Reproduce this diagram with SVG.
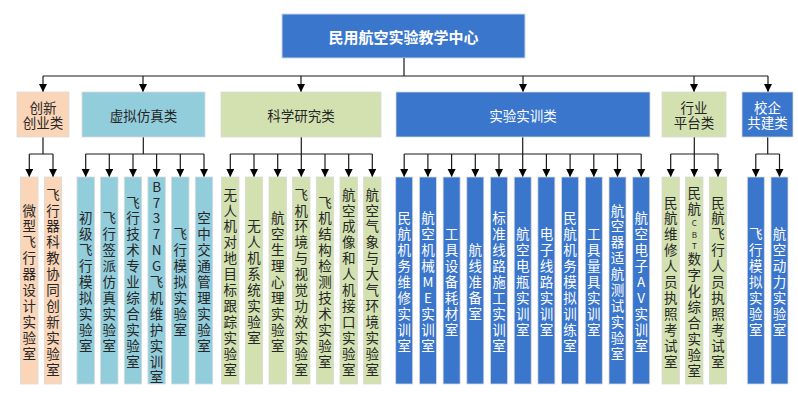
<svg xmlns="http://www.w3.org/2000/svg" width="798" height="404" viewBox="0 0 798 404">
<style>
text{font-family:"Noto Sans CJK SC","Microsoft YaHei",sans-serif;text-anchor:middle;dominant-baseline:central}
.lt{font-size:13.5px}
.ct{font-size:13.5px}
.d{fill:#262626}
.w{fill:#ffffff}
.bx{stroke:#d9d9d9;stroke-width:0.8}
.pe{fill:#fbd5b7}
.lb{fill:#92cddc}
.gr{fill:#d3e1b1}
.bl{fill:#3a76cc}
.cn path{fill:none;stroke:#1a1a1a;stroke-width:1.2}
.cn .a{marker-end:url(#ar)}
</style>
<defs>
<marker id="ar" markerUnits="userSpaceOnUse" markerWidth="9" markerHeight="9" refX="8" refY="4" orient="auto">
<path d="M0,0 L8,4 L0,8 z" fill="#000"/>
</marker>
</defs>
<rect width="798" height="404" fill="#fff"/>

<g id="title">
<rect x="282" y="14" width="243" height="44" class="bl" stroke="#c9d6ea" stroke-width="1"/>
<text x="403.5" y="36" class="w" style="font-size:15px;font-weight:bold">民用航空实验教学中心</text>
</g>

<g class="cn" id="connectors">
<path d="M404,58 V76 M43,76 H768"/>
<path class="a" d="M43,76 V92"/>
<path class="a" d="M143,76 V92"/>
<path class="a" d="M301,76 V92"/>
<path class="a" d="M523,76 V92"/>
<path class="a" d="M694,76 V92"/>
<path class="a" d="M768,76 V92"/>

<path d="M43,137 V154 M29.3,154 H53"/>
<path class="a" d="M29.3,154 V177"/>
<path class="a" d="M53,154 V177"/>

<path d="M143.3,137 V154 M85.7,154 H204"/>
<path class="a" d="M85.7,154 V177"/>
<path class="a" d="M109.3,154 V177"/>
<path class="a" d="M133,154 V177"/>
<path class="a" d="M156.6,154 V177"/>
<path class="a" d="M180.3,154 V177"/>
<path class="a" d="M204,154 V177"/>

<path d="M301.3,137 V154 M230.3,154 H372.3"/>
<path class="a" d="M230.3,154 V177"/>
<path class="a" d="M254,154 V177"/>
<path class="a" d="M277.7,154 V177"/>
<path class="a" d="M301.3,154 V177"/>
<path class="a" d="M325,154 V177"/>
<path class="a" d="M348.7,154 V177"/>
<path class="a" d="M372.3,154 V177"/>

<path d="M522.7,137 V154 M404.2,154 H641.2"/>
<path class="a" d="M404.2,154 V177"/>
<path class="a" d="M427.9,154 V177"/>
<path class="a" d="M451.6,154 V177"/>
<path class="a" d="M475.3,154 V177"/>
<path class="a" d="M499,154 V177"/>
<path class="a" d="M522.7,154 V177"/>
<path class="a" d="M546.4,154 V177"/>
<path class="a" d="M570.1,154 V177"/>
<path class="a" d="M593.8,154 V177"/>
<path class="a" d="M617.5,154 V177"/>
<path class="a" d="M641.2,154 V177"/>

<path d="M694.3,137 V154 M670.7,154 H718"/>
<path class="a" d="M670.7,154 V177"/>
<path class="a" d="M694.3,154 V177"/>
<path class="a" d="M718,154 V177"/>

<path d="M767.7,137 V154 M755.8,154 H779.5"/>
<path class="a" d="M755.8,154 V177"/>
<path class="a" d="M779.5,154 V177"/>
</g>

<g id="cat-innov">
<rect x="17" y="92" width="52" height="45" class="bx pe"/>
<text class="ct d" x="36.25 49.75 29.5 43 56.5" y="107 107 122 122 122">创新创业类</text>
</g>
<g id="cat-virtual">
<rect x="82" y="92" width="123" height="45" class="bx lb"/>
<text x="143.5" y="114.5" class="ct d">虚拟仿真类</text>
</g>
<g id="cat-science">
<rect x="221" y="92" width="160" height="45" class="bx gr"/>
<text x="301" y="114.5" class="ct d">科学研究类</text>
</g>
<g id="cat-training">
<rect x="396" y="92" width="254" height="45" class="bx bl"/>
<text x="523" y="114.5" class="ct w">实验实训类</text>
</g>
<g id="cat-industry">
<rect x="662" y="92" width="64" height="45" class="bx gr"/>
<text class="ct d" x="687.25 700.75 680.5 694 707.5" y="107 107 122 122 122">行业平台类</text>
</g>
<g id="cat-school">
<rect x="742" y="92" width="51" height="45" class="bx bl"/>
<text class="ct w" x="760.75 774.25 754 767.5 781" y="107 107 122 122 122">校企共建类</text>
</g>

<g id="leaf1"><rect x="20.6" y="177" width="17.4" height="207" class="bx pe"/>
<text class="lt d" x="29.3 29.3 29.3 29.3 29.3 29.3 29.3 29.3 29.3 29.3" y="209.5 225.4 241.3 257.2 273.1 289 304.9 320.8 336.7 352.6">微型飞行器设计实验室</text></g>
<g id="leaf2"><rect x="44.3" y="177" width="17.4" height="207" class="bx pe"/>
<text class="lt d" x="53 53 53 53 53 53 53 53 53 53 53 53" y="193.6 209.5 225.4 241.3 257.2 273.1 289 304.9 320.8 336.7 352.6 368.5">飞行器科教协同创新实验室</text></g>

<g id="leaf3"><rect x="77" y="177" width="17.4" height="207" class="bx lb"/>
<text class="lt d" x="85.7 85.7 85.7 85.7 85.7 85.7 85.7 85.7 85.7" y="217.4 233.3 249.2 265.1 281 296.9 312.8 328.7 344.6">初级飞行模拟实验室</text></g>
<g id="leaf4"><rect x="100.6" y="177" width="17.4" height="207" class="bx lb"/>
<text class="lt d" x="109.3 109.3 109.3 109.3 109.3 109.3 109.3 109.3 109.3" y="217.4 233.3 249.2 265.1 281 296.9 312.8 328.7 344.6">飞行签派仿真实验室</text></g>
<g id="leaf5"><rect x="124.3" y="177" width="17.4" height="207" class="bx lb"/>
<text class="lt d" x="133 133 133 133 133 133 133 133 133 133 133" y="201.5 217.4 233.3 249.2 265.1 281 296.9 312.8 328.7 344.6 360.5">飞行技术专业综合实验室</text></g>
<g id="leaf6"><rect x="147.9" y="177" width="17.4" height="207" class="bx lb"/>
<text class="lt d" x="156.6 156.6 156.6 156.6 156.6 156.6 156.6 156.6 156.6 156.6 156.6 156.6 156.6" y="185.6 201.5 217.4 233.3 249.2 265.1 281 296.9 312.8 328.7 344.6 360.5 376.4">B737NG飞机维护实训室</text></g>
<g id="leaf7"><rect x="171.6" y="177" width="17.4" height="207" class="bx lb"/>
<text class="lt d" x="180.3 180.3 180.3 180.3 180.3 180.3 180.3" y="233.3 249.2 265.1 281 296.9 312.8 328.7">飞行模拟实验室</text></g>
<g id="leaf8"><rect x="195.3" y="177" width="17.4" height="207" class="bx lb"/>
<text class="lt d" x="204 204 204 204 204 204 204 204 204" y="217.4 233.3 249.2 265.1 281 296.9 312.8 328.7 344.6">空中交通管理实验室</text></g>

<g id="leaf9"><rect x="221.6" y="177" width="17.4" height="207" class="bx gr"/>
<text class="lt d" x="230.3 230.3 230.3 230.3 230.3 230.3 230.3 230.3 230.3 230.3 230.3 230.3" y="193.6 209.5 225.4 241.3 257.2 273.1 289 304.9 320.8 336.7 352.6 368.5">无人机对地目标跟踪实验室</text></g>
<g id="leaf10"><rect x="245.3" y="177" width="17.4" height="207" class="bx gr"/>
<text class="lt d" x="254 254 254 254 254 254 254 254" y="225.4 241.3 257.2 273.1 289 304.9 320.8 336.7">无人机系统实验室</text></g>
<g id="leaf11"><rect x="269" y="177" width="17.4" height="207" class="bx gr"/>
<text class="lt d" x="277.7 277.7 277.7 277.7 277.7 277.7 277.7 277.7 277.7" y="217.4 233.3 249.2 265.1 281 296.9 312.8 328.7 344.6">航空生理心理实验室</text></g>
<g id="leaf12"><rect x="292.6" y="177" width="17.4" height="207" class="bx gr"/>
<text class="lt d" x="301.3 301.3 301.3 301.3 301.3 301.3 301.3 301.3 301.3 301.3 301.3 301.3" y="193.6 209.5 225.4 241.3 257.2 273.1 289 304.9 320.8 336.7 352.6 368.5">飞机环境与视觉功效实验室</text></g>
<g id="leaf13"><rect x="316.3" y="177" width="17.4" height="207" class="bx gr"/>
<text class="lt d" x="325 325 325 325 325 325 325 325 325 325 325" y="201.5 217.4 233.3 249.2 265.1 281 296.9 312.8 328.7 344.6 360.5">飞机结构检测技术实验室</text></g>
<g id="leaf14"><rect x="340" y="177" width="17.4" height="207" class="bx gr"/>
<text class="lt d" x="348.7 348.7 348.7 348.7 348.7 348.7 348.7 348.7 348.7 348.7 348.7 348.7" y="193.6 209.5 225.4 241.3 257.2 273.1 289 304.9 320.8 336.7 352.6 368.5">航空成像和人机接口实验室</text></g>
<g id="leaf15"><rect x="363.6" y="177" width="17.4" height="207" class="bx gr"/>
<text class="lt d" x="372.3 372.3 372.3 372.3 372.3 372.3 372.3 372.3 372.3 372.3 372.3 372.3" y="193.6 209.5 225.4 241.3 257.2 273.1 289 304.9 320.8 336.7 352.6 368.5">航空气象与大气环境实验室</text></g>

<g id="leaf16"><rect x="395.7" y="177" width="17" height="207" class="bx bl"/>
<text class="lt w" x="404.2 404.2 404.2 404.2 404.2 404.2 404.2 404.2 404.2" y="217.4 233.3 249.2 265.1 281 296.9 312.8 328.7 344.6">民航机务维修实训室</text></g>
<g id="leaf17"><rect x="419.4" y="177" width="17" height="207" class="bx bl"/>
<text class="lt w" x="427.9 427.9 427.9 427.9 427.9 427.9 427.9 427.9 427.9" y="217.4 233.3 249.2 265.1 281 296.9 312.8 328.7 344.6">航空机械ME实训室</text></g>
<g id="leaf18"><rect x="443.1" y="177" width="17" height="207" class="bx bl"/>
<text class="lt w" x="451.6 451.6 451.6 451.6 451.6 451.6 451.6" y="233.3 249.2 265.1 281 296.9 312.8 328.7">工具设备耗材室</text></g>
<g id="leaf19"><rect x="466.8" y="177" width="17" height="207" class="bx bl"/>
<text class="lt w" x="475.3 475.3 475.3 475.3 475.3" y="249.2 265.1 281 296.9 312.8">航线准备室</text></g>
<g id="leaf20"><rect x="490.5" y="177" width="17" height="207" class="bx bl"/>
<text class="lt w" x="499 499 499 499 499 499 499 499 499" y="217.4 233.3 249.2 265.1 281 296.9 312.8 328.7 344.6">标准线路施工实训室</text></g>
<g id="leaf21"><rect x="514.2" y="177" width="17" height="207" class="bx bl"/>
<text class="lt w" x="522.7 522.7 522.7 522.7 522.7 522.7 522.7" y="233.3 249.2 265.1 281 296.9 312.8 328.7">航空电瓶实训室</text></g>
<g id="leaf22"><rect x="537.9" y="177" width="17" height="207" class="bx bl"/>
<text class="lt w" x="546.4 546.4 546.4 546.4 546.4 546.4 546.4" y="233.3 249.2 265.1 281 296.9 312.8 328.7">电子线路实训室</text></g>
<g id="leaf23"><rect x="561.6" y="177" width="17" height="207" class="bx bl"/>
<text class="lt w" x="570.1 570.1 570.1 570.1 570.1 570.1 570.1 570.1 570.1" y="217.4 233.3 249.2 265.1 281 296.9 312.8 328.7 344.6">民航机务模拟训练室</text></g>
<g id="leaf24"><rect x="585.3" y="177" width="17" height="207" class="bx bl"/>
<text class="lt w" x="593.8 593.8 593.8 593.8 593.8 593.8 593.8" y="233.3 249.2 265.1 281 296.9 312.8 328.7">工具量具实训室</text></g>
<g id="leaf25"><rect x="609" y="177" width="17" height="207" class="bx bl"/>
<text class="lt w" x="617.5 617.5 617.5 617.5 617.5 617.5 617.5 617.5 617.5 617.5" y="209.5 225.4 241.3 257.2 273.1 289 304.9 320.8 336.7 352.6">航空器适航测试实验室</text></g>
<g id="leaf26"><rect x="632.7" y="177" width="17" height="207" class="bx bl"/>
<text class="lt w" x="641.2 641.2 641.2 641.2 641.2 641.2 641.2 641.2 641.2" y="217.4 233.3 249.2 265.1 281 296.9 312.8 328.7 344.6">航空电子AV实训室</text></g>

<g id="leaf27"><rect x="662" y="177" width="17.4" height="207" class="bx gr"/>
<text class="lt d" x="670.7 670.7 670.7 670.7 670.7 670.7 670.7 670.7 670.7 670.7 670.7" y="201.5 217.4 233.3 249.2 265.1 281 296.9 312.8 328.7 344.6 360.5">民航维修人员执照考试室</text></g>
<g id="leaf28"><rect x="685.6" y="177" width="17.4" height="207" class="bx gr"/>
<text class="lt d"><tspan x="694.3 694.3" y="192 208.3">民航</tspan><tspan style="font-size:8px" x="694.3 694.3 694.3" y="222.3 233.8 245.2">CBT</tspan><tspan x="694.3 694.3 694.3 694.3 694.3 694.3 694.3 694.3" y="258.3 274.3 290.2 306.2 322.1 338.1 354 370">数字化综合实验室</tspan></text></g>
<g id="leaf29"><rect x="709.3" y="177" width="17.4" height="207" class="bx gr"/>
<text class="lt d" x="718 718 718 718 718 718 718 718 718 718 718" y="201.5 217.4 233.3 249.2 265.1 281 296.9 312.8 328.7 344.6 360.5">民航飞行人员执照考试室</text></g>

<g id="leaf30"><rect x="747.3" y="177" width="17" height="207" class="bx bl"/>
<text class="lt w" x="755.8 755.8 755.8 755.8 755.8 755.8 755.8" y="233.3 249.2 265.1 281 296.9 312.8 328.7">飞行模拟实验室</text></g>
<g id="leaf31"><rect x="771" y="177" width="17" height="207" class="bx bl"/>
<text class="lt w" x="779.5 779.5 779.5 779.5 779.5 779.5 779.5" y="233.3 249.2 265.1 281 296.9 312.8 328.7">航空动力实验室</text></g>
</svg>
